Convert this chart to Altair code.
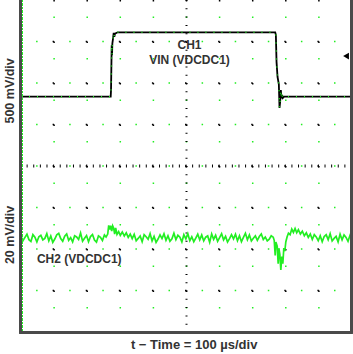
import altair as alt
import pandas as pd

# ---- data (time in microseconds, 100 us/div; channel values in mV) ----
ch1_t = [0, 271, 272, 274, 275, 276, 278, 280, 282, 284, 292, 500, 768, 770, 772, 775,
         779, 781, 783, 785, 787, 789, 791, 795, 1000]
ch1_mv = [0, 0, 80, 620, 500, 640, 700, 770, 720, 760, 776, 776, 776, 745, 420, 240,
          150, -136, -60, 80, -20, 20, -15, 0, 0]

ch2_t = [0, 6, 12, 18, 24, 30, 36, 42, 48, 54, 60, 66, 72, 78, 84, 90, 96, 102, 108, 114,
         120, 126, 132, 138, 144, 150, 156, 162, 168, 174, 180, 186, 192, 198, 204, 210,
         216, 222, 228, 234, 240, 246, 252, 257,
         262, 265, 268, 271, 274, 277, 280, 283, 286, 290, 295, 300, 306, 312, 318, 324,
         330, 336,
         342, 348, 354, 360, 366, 372, 378, 384, 390, 396, 402, 408, 414, 420, 426, 432,
         438, 444, 450, 456, 462, 468, 474, 480, 486, 492, 498, 504, 510, 516, 522, 528,
         534, 540, 546, 552, 558, 564, 570, 576, 582, 588, 594, 600, 606, 612, 618, 624,
         630, 636, 642, 648, 654, 660, 666, 672, 678, 684, 690, 696, 702, 708, 714, 720,
         726, 732, 738, 744, 750, 756,
         762, 765, 768, 770, 774, 777, 779, 782, 785, 788, 791, 794, 797, 800, 804, 808,
         813, 818, 823, 828, 833, 838, 844, 850, 856, 862, 868, 874, 880, 886, 892, 898,
         904, 910, 916, 922, 928, 934, 940, 946, 952, 958, 964, 970, 976, 982, 988, 994,
         1000]
ch2_mv = [0.7, -1.4, 0.2, 1.7, -0.9, -1.8, 1.5, 0.3, -2.0, 0.5, 1.2, -1.0, -0.3, 2.0,
          -1.5, 0.9, -2.2, -0.6, 1.4, 2.1, -0.4, -1.7, 0.8, 1.9, -1.2, 0.1, -2.0, 1.0,
          0.4, -0.8, 2.3, -1.6, -0.2, 1.1, -1.9, 0.6, 1.6, -1.1, -2.1, 0.9, 0.2, -1.3,
          1.4, 0.4,
          1.8, 6.0, 4.0, 5.8, 3.2, 5.7, 4.6, 1.8, 4.8, 1.6, 3.0, 1.2, 2.8, 0.9, 2.4, 0.2,
          1.8, -0.4,
          1.7, -1.4, -0.3, 0.9, -1.9, 1.5, 0.5, -0.7, 2.0, -1.5, 0.7, -2.2, -0.6, 1.4,
          -0.4, 1.9, -1.2, 1.0, -1.7, -0.5, 2.2, -0.9, 1.2, 0.3, -2.0, 1.5, -0.5, 2.0,
          -1.4, 0.5, -1.9, -0.2, 1.7, -1.0, 1.4, -1.5, 0.3, 0.9, -2.2, 1.9, -0.7, 1.2,
          -1.7, 0.1, 2.0, -1.0, 0.7, -2.0, -0.4, 1.5, -0.5, 1.7, -1.4, 1.0, -1.9, 0.2,
          2.2, -0.9, 1.4, -1.5, -0.2, 0.9, -1.2, 0.6, 1.8, -0.8, 0.4, -1.5, -0.7, 1.0,
          0.3, -1.2, -8.5, -2.0, -4.0, -12.5, -5.0, -8.0, -15.5, -9.0, -12.5, -5.0, -6.5,
          -2.0, 0.5, 2.2, 1.5, 4.2, 2.6, 4.5, 2.4, 3.9, 1.8, 3.2, 1.0, 2.4, 0.2, 1.8,
          -0.8, 1.5, 0.4, -1.4, 1.0, -1.9, 0.6, 1.5, -0.9, 2.0, -1.5, -0.3, 0.7, -2.0,
          1.7, -1.0, 1.4, 0.2, -1.7, 1.2, -0.6]

trigger_t = [982]
trigger_mv = [490]

grid_t = [100, 200, 300, 400, 500, 600, 700, 800, 900]
grid_div = [1, 2, 3, 4, 5, 6, 7]

labels_text = ["CH1", "VIN (VDCDC1)", "CH2 (VDCDC1)"]
labels_t = [509, 509, 176]
labels_div = [6.92, 6.55, 1.76]

# screen offsets (divisions) and scales (mV/div)
CH1_OFF, CH1_SCALE = 5.67, 500
CH2_OFF, CH2_SCALE = 2.27, 20

GREEN = "#22ee22"
TXT = "#333333"
W, H = 331, 332

xs = alt.Scale(domain=[0, 1000], nice=False)
ys = alt.Scale(domain=[0, 8], nice=False)

ch1 = pd.DataFrame({"t": ch1_t, "mv": ch1_mv})
ch2 = pd.DataFrame({"t": ch2_t, "mv": ch2_mv})
trig = pd.DataFrame({"t": trigger_t, "mv": trigger_mv})
gx = pd.DataFrame({"t": grid_t})
gy = pd.DataFrame({"d": grid_div})
lab = pd.DataFrame({"text": labels_text, "t": labels_t, "d": labels_div})

X = alt.X("t:Q", scale=xs, axis=None)
Yd = alt.Y("d:Q", scale=ys, axis=None)

# grid: sparse dotted lines, black and green alternating
vgrid_k = alt.Chart(gx).mark_rule(color="black", strokeWidth=1.5, strokeDash=[1.5, 40]).encode(x=X)
vgrid_g = alt.Chart(gx).mark_rule(color=GREEN, strokeWidth=1.5, strokeDash=[1.5, 40],
                                  strokeDashOffset=25).encode(x=X)
hgrid_k = alt.Chart(gy).mark_rule(color="black", strokeWidth=1.5, strokeDash=[1.5, 31.6]).encode(y=Yd)
hgrid_g = alt.Chart(gy).mark_rule(color=GREEN, strokeWidth=1.5, strokeDash=[1.5, 31.6],
                                  strokeDashOffset=-16.5).encode(y=Yd)

# centre crosshair ticks
cross_h = alt.Chart(pd.DataFrame({"d": [4]})).mark_rule(
    color="black", strokeWidth=3, strokeDash=[1, 5.62]).encode(y=Yd)
cross_v = alt.Chart(pd.DataFrame({"t": [500]})).mark_rule(
    color="black", strokeWidth=2, strokeDash=[1, 7.3]).encode(x=X)

# frame
frame_l = alt.Chart(gx).mark_rule(color="#4a4a4a", strokeWidth=2).encode(
    x=alt.value(-0.5), y=alt.value(-2), y2=alt.value(H + 1))
frame_r = alt.Chart(gx).mark_rule(color="#4a4a4a", strokeWidth=2).encode(
    x=alt.value(W - 0.5), y=alt.value(-2), y2=alt.value(H + 1))
frame_b = alt.Chart(gx).mark_rule(color="#4a4a4a", strokeWidth=2).encode(
    x=alt.value(-1.5), x2=alt.value(W + 0.5), y=alt.value(H + 0.5))
left_green = alt.Chart(gx).mark_rule(color=GREEN, strokeWidth=1.2, strokeDash=[2, 1.5]).encode(
    x=alt.value(1.2), y=alt.value(0), y2=alt.value(H))

# traces
ch2_line = alt.Chart(ch2).transform_calculate(
    d=f"{CH2_OFF} + datum.mv / {CH2_SCALE}").mark_line(
    color=GREEN, strokeWidth=1.7, interpolate="linear").encode(x=X, y=Yd)

ch1_line = alt.Chart(ch1).transform_calculate(
    d=f"{CH1_OFF} + datum.mv / {CH1_SCALE}").mark_line(
    color="black", strokeWidth=1.8).encode(x=X, y=Yd)
ch1_dots = alt.Chart(ch1).transform_calculate(
    d=f"{CH1_OFF} + datum.mv / {CH1_SCALE}").mark_line(
    color=GREEN, strokeWidth=1.5, strokeDash=[1, 7]).encode(x=X, y=Yd)

trig_mark = alt.Chart(trig).transform_calculate(
    d=f"{CH1_OFF} + datum.mv / {CH1_SCALE}").mark_point(
    shape="triangle-left", filled=True, color="black", size=45, opacity=1).encode(x=X, y=Yd)

# texts
labels = alt.Chart(lab).mark_text(
    font="Liberation Sans", fontWeight="bold", fontSize=12, color=TXT,
    align="center", baseline="middle").encode(x=X, y=Yd, text="text:N")

ytitle1 = alt.Chart(pd.DataFrame({"t": [-33], "d": [5.81], "text": ["500 mV/div"]})).mark_text(
    font="Liberation Sans", fontWeight="bold", fontSize=12.5, color=TXT, angle=270,
    align="center", baseline="middle").encode(x=X, y=Yd, text="text:N")
ytitle2 = alt.Chart(pd.DataFrame({"t": [-33], "d": [2.34], "text": ["20 mV/div"]})).mark_text(
    font="Liberation Sans", fontWeight="bold", fontSize=12.5, color=TXT, angle=270,
    align="center", baseline="middle").encode(x=X, y=Yd, text="text:N")
xtitle = alt.Chart(pd.DataFrame({"t": [523], "d": [-0.31], "text": ["t \u2212 Time = 100 \u00b5s/div"]})).mark_text(
    font="Liberation Sans", fontWeight="bold", fontSize=13, color=TXT,
    align="center", baseline="middle").encode(x=X, y=Yd, text="text:N")

chart = alt.layer(
    vgrid_k, vgrid_g, hgrid_k, hgrid_g, cross_h, cross_v,
    ch2_line, ch1_line, ch1_dots, trig_mark,
    left_green, frame_l, frame_r, frame_b,
    labels, ytitle1, ytitle2, xtitle,
).properties(
    width=W, height=H,
    padding={"left": 21, "top": 0, "right": 1, "bottom": 22},
    autosize=alt.AutoSizeParams(type="none"),
    background="white",
).configure_view(stroke=None)

chart.save("out.html", embed_options={"renderer": "svg", "actions": False})
